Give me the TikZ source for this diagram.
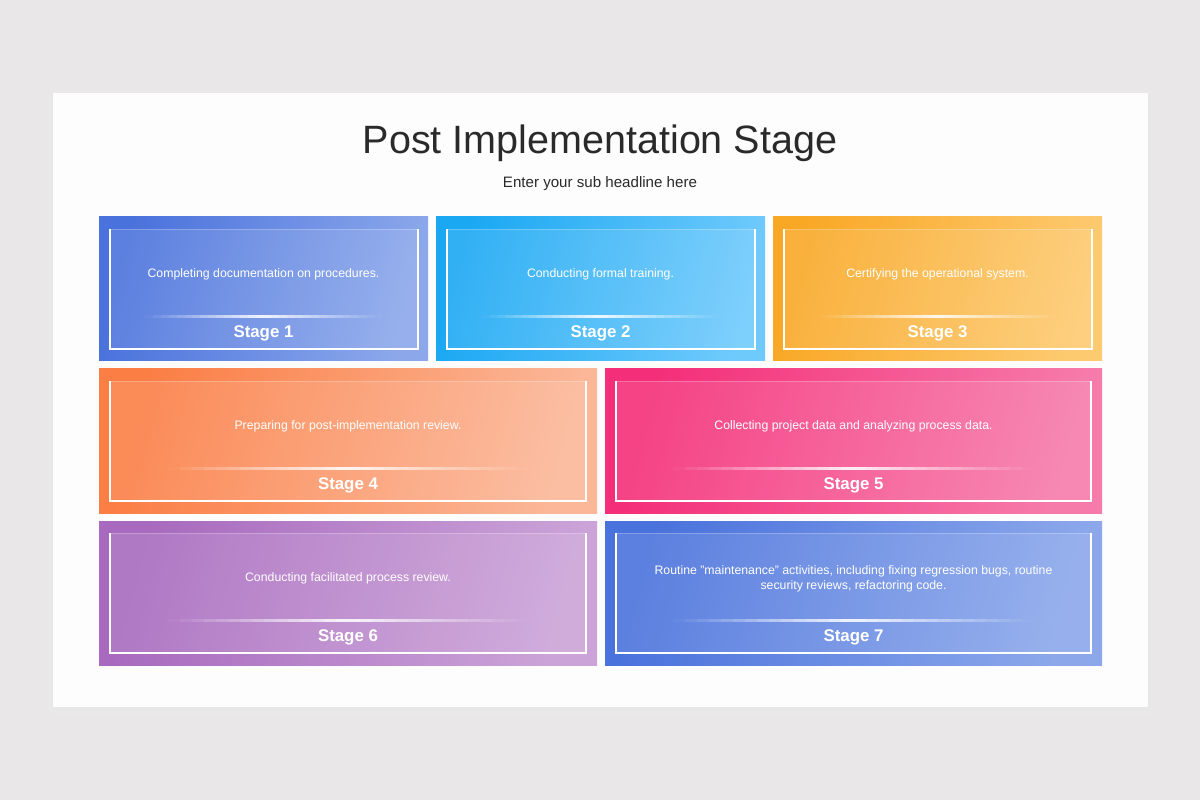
\documentclass[tikz,border=0pt]{standalone}
\usepackage{fontspec}
\setmainfont{Liberation Sans}
\definecolor{pagegray}{HTML}{E9E7E8}
\definecolor{slidewhite}{HTML}{FDFDFD}
\definecolor{titlegray}{HTML}{2A2A2A}
\definecolor{blueA}{HTML}{4A72DC}\definecolor{blueB}{HTML}{8CA8EB}
\definecolor{skyA}{HTML}{1BA8F3}\definecolor{skyB}{HTML}{6FCAFC}
\definecolor{goldA}{HTML}{F9A826}\definecolor{goldB}{HTML}{FDCA70}
\definecolor{peachA}{HTML}{FB7E45}\definecolor{peachB}{HTML}{FBB798}
\definecolor{pinkA}{HTML}{F42E78}\definecolor{pinkB}{HTML}{F67BAB}
\definecolor{lilacA}{HTML}{A86ABE}\definecolor{lilacB}{HTML}{CBA3D8}
\tikzset{
  desc/.style={text=white, font=\fontsize{7}{8.5}\selectfont, align=center},
  stagelabel/.style={text=white, font=\bfseries\fontsize{9.6}{11}\selectfont},
  glass/.style={fill=white, fill opacity=0.1},
  rim/.style={draw=white, line width=0.9pt},
  glow/.style={fill=white, draw=none},
}
\begin{document}
\begin{tikzpicture}[x=0.02cm, y=-0.02cm]
      % page and slide
      \fill[pagegray] (0,0) rectangle (1200,800);
      \useasboundingbox (0,0) rectangle (1200,800);
      \fill[black!12, opacity=0.5] (51,93) rectangle (1151,711);
      \fill[black!8, opacity=0.5] (49,91) rectangle (1153,714);
      \fill[slidewhite] (53,93) rectangle (1148,707);
      \node[text=titlegray, font=\fontsize{22.5}{26}\selectfont] (title) at (600,143.5) {Post Implementation Stage};
      \node[text=titlegray, font=\fontsize{8.6}{10}\selectfont] (subtitle) at (600,184) {Enter your sub headline here};

      % row 1
      \begin{scope}[shift={(99,217)}]
        \shade[left color=blueA, right color=blueB, shading angle=75] (0,0) rectangle (329,144);
        \fill[glass] (11,12) rectangle (319,132);
        \draw[rim] (11,12) -- (11,132) -- (319,132) -- (319,12);
        \draw[white, opacity=0.25] (11,12) -- (319,12);
        \foreach \i in {0,...,29}
          \fill[glow, opacity={0.9*(1-abs((\i+0.5)/15-1))}] ({46+237*\i/30},98) rectangle ({46+237*(\i+1)/30},101);
        \node[desc] (desc1) at (164.5,57.5) {Completing documentation on procedures.};
        \node[stagelabel] (stage1) at (164.5,116.5) {Stage 1};
      \end{scope}
      \begin{scope}[shift={(436,217)}]
        \shade[left color=skyA, right color=skyB, shading angle=75] (0,0) rectangle (329,144);
        \fill[glass] (11,12) rectangle (319,132);
        \draw[rim] (11,12) -- (11,132) -- (319,132) -- (319,12);
        \draw[white, opacity=0.25] (11,12) -- (319,12);
        \foreach \i in {0,...,29}
          \fill[glow, opacity={0.9*(1-abs((\i+0.5)/15-1))}] ({46+237*\i/30},98) rectangle ({46+237*(\i+1)/30},101);
        \node[desc] (desc2) at (164.5,57.5) {Conducting formal training.};
        \node[stagelabel] (stage2) at (164.5,116.5) {Stage 2};
      \end{scope}
      \begin{scope}[shift={(773,217)}]
        \shade[left color=goldA, right color=goldB, shading angle=75] (0,0) rectangle (329,144);
        \fill[glass] (11,12) rectangle (319,132);
        \draw[rim] (11,12) -- (11,132) -- (319,132) -- (319,12);
        \draw[white, opacity=0.25] (11,12) -- (319,12);
        \foreach \i in {0,...,29}
          \fill[glow, opacity={0.9*(1-abs((\i+0.5)/15-1))}] ({46+237*\i/30},98) rectangle ({46+237*(\i+1)/30},101);
        \node[desc] (desc3) at (164.5,57.5) {Certifying the operational system.};
        \node[stagelabel] (stage3) at (164.5,116.5) {Stage 3};
      \end{scope}

      % row 2
      \begin{scope}[shift={(99,369)}]
        \shade[left color=peachA, right color=peachB, shading angle=75] (0,0) rectangle (498,144);
        \fill[glass] (11,12) rectangle (487,132);
        \draw[rim] (11,12) -- (11,132) -- (487,132) -- (487,12);
        \draw[white, opacity=0.25] (11,12) -- (487,12);
        \foreach \i in {0,...,29}
          \fill[glow, opacity={0.9*(1-abs((\i+0.5)/15-1))}] ({69+360*\i/30},98) rectangle ({69+360*(\i+1)/30},101);
        \node[desc] (desc4) at (249,57.5) {Preparing for post-implementation review.};
        \node[stagelabel] (stage4) at (249,116.5) {Stage 4};
      \end{scope}
      \begin{scope}[shift={(605,369)}]
        \shade[left color=pinkA, right color=pinkB, shading angle=75] (0,0) rectangle (497,144);
        \fill[glass] (11,12) rectangle (486,132);
        \draw[rim] (11,12) -- (11,132) -- (486,132) -- (486,12);
        \draw[white, opacity=0.25] (11,12) -- (486,12);
        \foreach \i in {0,...,29}
          \fill[glow, opacity={0.9*(1-abs((\i+0.5)/15-1))}] ({68+361*\i/30},98) rectangle ({68+361*(\i+1)/30},101);
        \node[desc] (desc5) at (248.5,57.5) {Collecting project data and analyzing process data.};
        \node[stagelabel] (stage5) at (248.5,116.5) {Stage 5};
      \end{scope}

      % row 3
      \begin{scope}[shift={(99,521)}]
        \shade[left color=lilacA, right color=lilacB, shading angle=75] (0,0) rectangle (498,144);
        \fill[glass] (11,12) rectangle (487,132);
        \draw[rim] (11,12) -- (11,132) -- (487,132) -- (487,12);
        \draw[white, opacity=0.25] (11,12) -- (487,12);
        \foreach \i in {0,...,29}
          \fill[glow, opacity={0.9*(1-abs((\i+0.5)/15-1))}] ({69+360*\i/30},98) rectangle ({69+360*(\i+1)/30},101);
        \node[desc] (desc6) at (249,57.5) {Conducting facilitated process review.};
        \node[stagelabel] (stage6) at (249,116.5) {Stage 6};
      \end{scope}
      \begin{scope}[shift={(605,521)}]
        \shade[left color=blueA, right color=blueB, shading angle=75] (0,0) rectangle (497,144);
        \fill[glass] (11,12) rectangle (486,132);
        \draw[rim] (11,12) -- (11,132) -- (486,132) -- (486,12);
        \draw[white, opacity=0.25] (11,12) -- (486,12);
        \foreach \i in {0,...,29}
          \fill[glow, opacity={0.9*(1-abs((\i+0.5)/15-1))}] ({68+361*\i/30},98) rectangle ({68+361*(\i+1)/30},101);
        \node[desc] (desc7) at (248.5,57.5) {Routine "maintenance" activities, including fixing regression bugs, routine\\security reviews, refactoring code.};
        \node[stagelabel] (stage7) at (248.5,116.5) {Stage 7};
      \end{scope}
   \end{tikzpicture}
\end{document}
